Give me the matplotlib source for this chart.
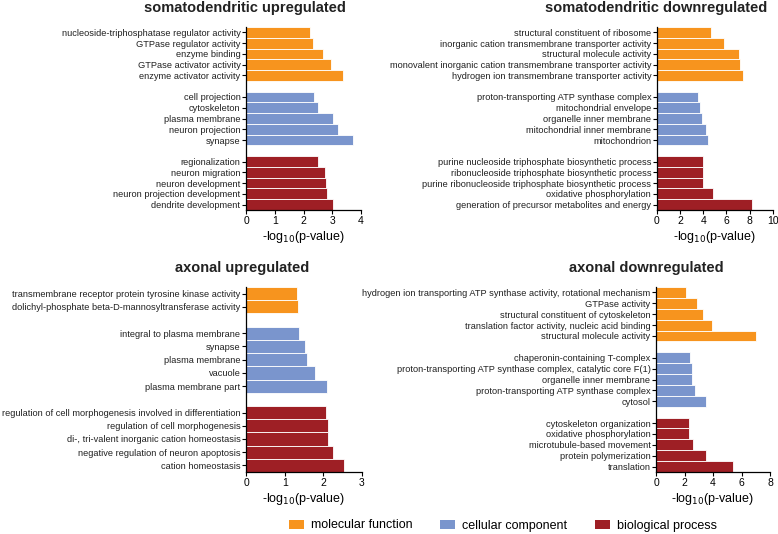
import matplotlib
matplotlib.use("Agg")
import matplotlib.pyplot as plt
from matplotlib.patches import Patch

plt.rcParams['font.family'] = ['Liberation Sans', 'DejaVu Sans']

# somatodendritic upregulated
sd_up_mf = ["nucleoside-triphosphatase regulator activity", "GTPase regulator activity",
            "enzyme binding", "GTPase activator activity", "enzyme activator activity"]
sd_up_mf_val = [2.23, 2.32, 2.69, 2.94, 3.36]
sd_up_cc = ["cell projection", "cytoskeleton", "plasma membrane", "neuron projection", "synapse"]
sd_up_cc_val = [2.37, 2.49, 3.04, 3.19, 3.73]
sd_up_bp = ["regionalization", "neuron migration", "neuron development",
            "neuron projection development", "dendrite development"]
sd_up_bp_val = [2.52, 2.74, 2.78, 2.81, 3.04]

# somatodendritic downregulated
sd_dn_mf = ["structural constituent of ribosome", "inorganic cation transmembrane transporter activity",
            "structural molecule activity",
            "monovalent inorganic cation transmembrane transporter activity",
            "hydrogen ion transmembrane transporter activity"]
sd_dn_mf_val = [4.69, 5.79, 7.08, 7.14, 7.45]
sd_dn_cc = ["proton-transporting ATP synthase complex", "mitochondrial envelope",
            "organelle inner membrane", "mitochondrial inner membrane", "mitochondrion"]
sd_dn_cc_val = [3.58, 3.73, 3.87, 4.24, 4.42]
sd_dn_bp = ["purine nucleoside triphosphate biosynthetic process",
            "ribonucleoside triphosphate biosynthetic process",
            "purine ribonucleoside triphosphate biosynthetic process",
            "oxidative phosphorylation", "generation of precursor metabolites and energy"]
sd_dn_bp_val = [3.98, 3.98, 3.98, 4.87, 8.22]

# axonal upregulated
ax_up_mf = ["transmembrane receptor protein tyrosine kinase activity",
            "dolichyl-phosphate beta-D-mannosyltransferase activity"]
ax_up_mf_val = [1.31, 1.35]
ax_up_cc = ["integral to plasma membrane", "synapse", "plasma membrane", "vacuole",
            "plasma membrane part"]
ax_up_cc_val = [1.38, 1.52, 1.57, 1.78, 2.10]
ax_up_bp = ["regulation of cell morphogenesis involved in differentiation",
            "regulation of cell morphogenesis", "di-, tri-valent inorganic cation homeostasis",
            "negative regulation of neuron apoptosis", "cation homeostasis"]
ax_up_bp_val = [2.08, 2.12, 2.12, 2.24, 2.54]

# axonal downregulated
ax_dn_mf = ["hydrogen ion transporting ATP synthase activity, rotational mechanism",
            "GTPase activity", "structural constituent of cytoskeleton",
            "translation factor activity, nucleic acid binding", "structural molecule activity"]
ax_dn_mf_val = [2.13, 2.85, 3.32, 3.91, 7.04]
ax_dn_cc = ["chaperonin-containing T-complex",
            "proton-transporting ATP synthase complex, catalytic core F(1)",
            "organelle inner membrane", "proton-transporting ATP synthase complex", "cytosol"]
ax_dn_cc_val = [2.39, 2.50, 2.55, 2.74, 3.53]
ax_dn_bp = ["cytoskeleton organization", "oxidative phosphorylation",
            "microtubule-based movement", "protein polymerization", "translation"]
ax_dn_bp_val = [2.32, 2.32, 2.60, 3.49, 5.40]

colors = ["#F7941E", "#7A95CD", "#9E1F25"]
W, H = 778, 534

fig = plt.figure(figsize=(W / 100, H / 100), dpi=100)


def panel(rect_px, title, title_x, groups, xmax, xticks):
    x0, x1, yt, yb = rect_px
    ax = fig.add_axes([x0 / W, 1 - yb / H, (x1 - x0) / W, (yb - yt) / H])
    labels, pos = [], []
    y = 0
    for (names, vals), c in zip(groups, colors):
        ys = list(range(y, y + len(names)))
        ax.barh(ys, vals, height=1.0, color=c, edgecolor="white", linewidth=0.6)
        labels += names
        pos += ys
        y += len(names) + 1
    ax.set_ylim(y - 1.5, -0.5)
    ax.set_xlim(0, xmax)
    ax.set_yticks(pos)
    ax.set_yticklabels(labels, fontsize=6.65, color="#222222")
    ax.set_xticks(xticks)
    ax.tick_params(axis="x", labelsize=7.5, length=3, width=0.8, pad=1.5)
    ax.tick_params(axis="y", length=3, width=0.8, pad=1)
    for s in ["top", "right"]:
        ax.spines[s].set_visible(False)
    for s in ["left", "bottom"]:
        ax.spines[s].set_linewidth(0.9)
    ax.set_xlabel(r"-log$_{10}$(p-value)", fontsize=9, labelpad=2)
    fig.text(title_x / W, 1 - (yt - 19) / H, title, ha="center", va="center",
             fontsize=10.5, fontweight="bold", color="#222222")
    return ax


panel((246, 361, 27, 210), "somatodendritic upregulated", 245,
      [(sd_up_mf, sd_up_mf_val), (sd_up_cc, sd_up_cc_val), (sd_up_bp, sd_up_bp_val)],
      4, [0, 1, 2, 3, 4])
panel((656.7, 773, 27, 210), "somatodendritic downregulated", 656,
      [(sd_dn_mf, sd_dn_mf_val), (sd_dn_cc, sd_dn_cc_val), (sd_dn_bp, sd_dn_bp_val)],
      10, [0, 2, 4, 6, 8, 10])
panel((246, 362, 287, 472), "axonal upregulated", 242,
      [(ax_up_mf, ax_up_mf_val), (ax_up_cc, ax_up_cc_val), (ax_up_bp, ax_up_bp_val)],
      3, [0, 1, 2, 3])
panel((656, 770, 287, 472), "axonal downregulated", 646,
      [(ax_dn_mf, ax_dn_mf_val), (ax_dn_cc, ax_dn_cc_val), (ax_dn_bp, ax_dn_bp_val)],
      8, [0, 2, 4, 6, 8])

handles = [Patch(facecolor=c, edgecolor="none") for c in colors]
fig.legend(handles, ["molecular function", "cellular component", "biological process"],
           loc="center", bbox_to_anchor=(503 / W, 1 - 525.5 / H), ncol=3, frameon=False,
           fontsize=9, handlelength=1.2, handleheight=0.7, columnspacing=2.2,
           handletextpad=0.55)

fig.savefig("out.png", dpi=100)
